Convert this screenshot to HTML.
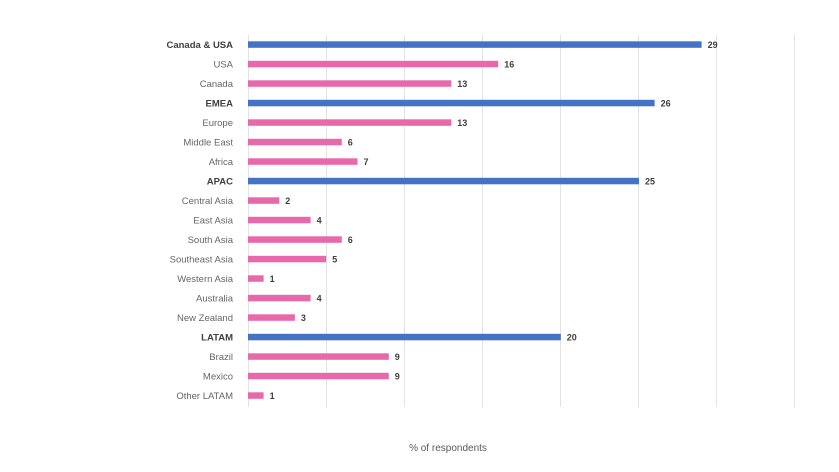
<!DOCTYPE html>
<html><head><meta charset="utf-8"><style>
html,body{margin:0;padding:0;background:#fff;}
svg{display:block;font-family:"Liberation Sans",sans-serif;}
.b{fill:#4472c4}.p{fill:#e869ab}
.l{fill:#666;text-anchor:end;font-size:9.5px}
.lb{fill:#404040;text-anchor:end;font-size:9.5px;font-weight:bold}
.v{fill:#404040;font-weight:bold;font-size:9px}
</style></head><body>
<svg width="839" height="472" xmlns="http://www.w3.org/2000/svg">
<g stroke="#e3e3e3" stroke-width="1">
<line x1="248.5" y1="35" x2="248.5" y2="407"/>
<line x1="326.5" y1="35" x2="326.5" y2="407"/>
<line x1="404.5" y1="35" x2="404.5" y2="407"/>
<line x1="482.5" y1="35" x2="482.5" y2="407"/>
<line x1="560.5" y1="35" x2="560.5" y2="407"/>
<line x1="638.5" y1="35" x2="638.5" y2="407"/>
<line x1="716.5" y1="35" x2="716.5" y2="407"/>
<line x1="794.5" y1="35" x2="794.5" y2="407"/>
</g>
<rect class="b" x="248" y="41.3" width="453.6" height="6.5"/><text class="lb" x="233" y="47.8">Canada &amp; USA</text><text class="v" x="707.6" y="48">29</text>
<rect class="p" x="248" y="60.8" width="250.2" height="6.5"/><text class="l" x="233" y="67.3">USA</text><text class="v" x="504.2" y="67.5">16</text>
<rect class="p" x="248" y="80.3" width="203.3" height="6.5"/><text class="l" x="233" y="86.8">Canada</text><text class="v" x="457.3" y="87">13</text>
<rect class="b" x="248" y="99.8" width="406.6" height="6.5"/><text class="lb" x="233" y="106.3">EMEA</text><text class="v" x="660.6" y="106.5">26</text>
<rect class="p" x="248" y="119.3" width="203.3" height="6.5"/><text class="l" x="233" y="125.8">Europe</text><text class="v" x="457.3" y="126">13</text>
<rect class="p" x="248" y="138.8" width="93.8" height="6.5"/><text class="l" x="233" y="145.3">Middle East</text><text class="v" x="347.8" y="145.5">6</text>
<rect class="p" x="248" y="158.3" width="109.5" height="6.5"/><text class="l" x="233" y="164.8">Africa</text><text class="v" x="363.5" y="165">7</text>
<rect class="b" x="248" y="177.8" width="391" height="6.5"/><text class="lb" x="233" y="184.3">APAC</text><text class="v" x="645" y="184.5">25</text>
<rect class="p" x="248" y="197.3" width="31.3" height="6.5"/><text class="l" x="233" y="203.8">Central Asia</text><text class="v" x="285.3" y="204">2</text>
<rect class="p" x="248" y="216.8" width="62.6" height="6.5"/><text class="l" x="233" y="223.3">East Asia</text><text class="v" x="316.6" y="223.5">4</text>
<rect class="p" x="248" y="236.3" width="93.8" height="6.5"/><text class="l" x="233" y="242.8">South Asia</text><text class="v" x="347.8" y="243">6</text>
<rect class="p" x="248" y="255.8" width="78.2" height="6.5"/><text class="l" x="233" y="262.3">Southeast Asia</text><text class="v" x="332.2" y="262.5">5</text>
<rect class="p" x="248" y="275.3" width="15.6" height="6.5"/><text class="l" x="233" y="281.8">Western Asia</text><text class="v" x="269.6" y="282">1</text>
<rect class="p" x="248" y="294.8" width="62.6" height="6.5"/><text class="l" x="233" y="301.3">Australia</text><text class="v" x="316.6" y="301.5">4</text>
<rect class="p" x="248" y="314.3" width="46.9" height="6.5"/><text class="l" x="233" y="320.8">New Zealand</text><text class="v" x="300.9" y="321">3</text>
<rect class="b" x="248" y="333.8" width="312.8" height="6.5"/><text class="lb" x="233" y="340.3">LATAM</text><text class="v" x="566.8" y="340.5">20</text>
<rect class="p" x="248" y="353.3" width="140.8" height="6.5"/><text class="l" x="233" y="359.8">Brazil</text><text class="v" x="394.8" y="360">9</text>
<rect class="p" x="248" y="372.8" width="140.8" height="6.5"/><text class="l" x="233" y="379.3">Mexico</text><text class="v" x="394.8" y="379.5">9</text>
<rect class="p" x="248" y="392.3" width="15.6" height="6.5"/><text class="l" x="233" y="398.8">Other LATAM</text><text class="v" x="269.6" y="399">1</text>
<text x="448" y="451" font-size="10" fill="#595959" text-anchor="middle">% of respondents</text>
</svg>
</body></html>
